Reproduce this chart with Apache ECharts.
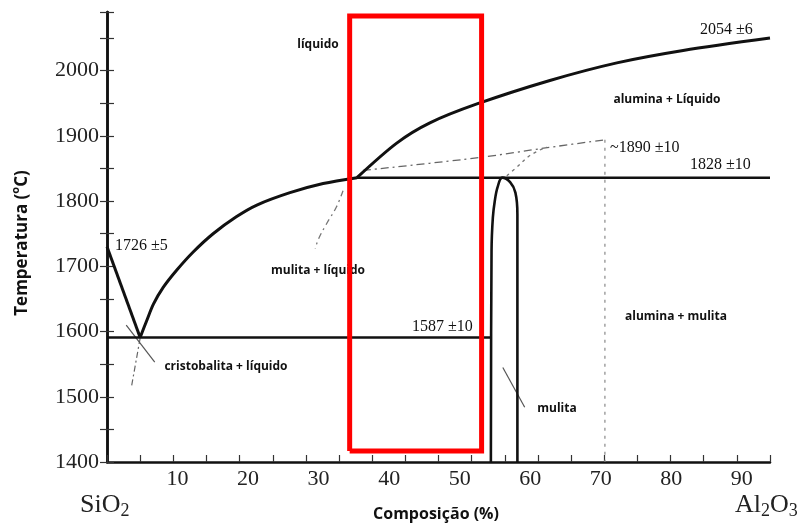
<!doctype html>
<html lang="pt-BR">
<head>
<meta charset="UTF-8"/>
<title>Diagrama de fases SiO2 - Al2O3</title>
<script src="https://cdn.jsdelivr.net/npm/echarts@6/dist/echarts.min.js"></script>
<style>
html,body{margin:0;padding:0;background:#fff;}
#diagrama{width:809px;height:523px;}
</style>
</head>
<body>

<div id="diagrama"></div>

<script>
// rótulos dos eixos
var rotulosX = [10, 20, 30, 40, 50, 60, 70, 80, 90];
var rotulosY = [1400, 1500, 1600, 1700, 1800, 1900, 2000];

// curvas do diagrama (composição %, temperatura °C)
var liquidusSilica  = [[0, 1730], [5.0, 1591]];
var liquidusMulita  = [[5.0, 1591], [6.0, 1617], [7.0, 1642], [8.5, 1668], [10.5, 1694], [13.0, 1722],
                       [16.0, 1750], [19.5, 1776], [22.6, 1794], [27.6, 1813], [32.6, 1827], [37.7, 1836]];
var liquidusAlumina = [[37.7, 1836], [43.7, 1889], [48.7, 1920], [55.8, 1949], [66.8, 1985],
                       [76.9, 2012], [86.9, 2031], [100, 2050]];
var eutetico     = [[0, 1591], [57.9, 1591]];
var peritetico   = [[37.7, 1836], [100, 1836]];
var campoMulita  = [[57.9, 1400], [58.0, 1724], [58.2, 1775], [58.5, 1801], [58.9, 1821], [59.6, 1836],
                    [60.8, 1829], [61.6, 1813], [61.9, 1780], [61.9, 1400]];

// linhas metaestáveis (traço-ponto / pontilhado)
var metaEutetico = [[5.0, 1590], [3.7, 1516]];
var metaLiquidus = [[35.6, 1816], [34.6, 1791], [33.1, 1765], [31.9, 1742], [31.4, 1727]];
var metaTopo     = [[38.6, 1847], [56.3, 1867], [66.4, 1882], [75.1, 1894]];
var metaMulita   = [[60.3, 1839], [61.8, 1852], [63.8, 1870], [66.3, 1883]];
var metaVertical = [[75.1, 1894], [75.1, 1400]];

// linhas de chamada
var setaCristobalita = [[2.9, 1610], [7.2, 1553]];
var setaMulita       = [[59.7, 1545], [63.0, 1484]];

// destaque vermelho
var destaque = [[36.6, 1417], [56.5, 1417], [56.5, 2084], [36.6, 2084], [36.6, 1417]];

var myChart = echarts.init(document.getElementById('diagrama'));

var serif = '"Liberation Serif", "Times New Roman", serif';
var sans = '"Open Sans", "Noto Sans", sans-serif';

function linha(dados, cor, largura, tipo, suave) {
    return {
        type: 'line',
        data: dados,
        xAxisIndex: 0,
        yAxisIndex: 0,
        showSymbol: false,
        symbol: 'none',
        smooth: suave || false,
        silent: true,
        lineStyle: { color: cor, width: largura, type: tipo || 'solid', join: 'miter' }
    };
}

function texto(x, y, t, fonte, tam, peso, alinha) {
    return {
        type: 'text',
        x: x, y: y,
        style: {
            text: t, fill: '#111', font: peso + ' ' + tam + 'px ' + fonte,
            align: alinha || 'center', verticalAlign: 'middle'
        }
    };
}

option = {
    backgroundColor: '#fff',
    animation: false,
    grid: { left: 107, right: 39, top: 12, bottom: 61, containLabel: false },
    xAxis: [
        {
            type: 'value', min: 0, max: 100, interval: 5, position: 'bottom',
            axisLine: { lineStyle: { color: '#111', width: 2.5 } },
            axisTick: { inside: true, length: 7, lineStyle: { color: '#333', width: 1.2 } },
            axisLabel: { show: false },
            splitLine: { show: false }
        },
        {
            type: 'value', min: 0, max: 94, interval: 10, position: 'bottom',
            axisLine: { show: false },
            axisTick: { show: false },
            splitLine: { show: false },
            axisLabel: {
                margin: 6, color: '#222', fontFamily: serif, fontSize: 22,
                formatter: function (v) { return rotulosX.indexOf(v) >= 0 ? v : ''; }
            }
        }
    ],
    yAxis: [
        {
            type: 'value', min: 1400, max: 2090, interval: 50, position: 'left',
            axisLine: { show: true, lineStyle: { color: '#111', width: 2.5 } },
            axisTick: { show: true, inside: true, length: 7, lineStyle: { color: '#333', width: 1.2 } },
            splitLine: { show: false },
            axisLabel: {
                margin: 8, color: '#222', fontFamily: serif, fontSize: 22,
                formatter: function (v) { return rotulosY.indexOf(v) >= 0 ? v : ''; }
            }
        },
        {
            type: 'value', min: 1400, max: 2090, interval: 50, position: 'right',
            axisLine: { show: true, lineStyle: { color: '#111', width: 2.5 } },
            axisTick: { show: true, inside: true, length: 7, lineStyle: { color: '#333', width: 1.2 } },
            splitLine: { show: false },
            axisLabel: { show: false }
        }
    ],
    series: [
        linha(metaEutetico, '#666', 1.2, [6, 3, 2, 3]),
        linha(metaLiquidus, '#777', 1.3, [6, 4, 2, 4], 0.4),
        linha(metaTopo, '#666', 1.3, [8, 4, 2, 4], 0.3),
        linha(metaMulita, '#777', 1.3, [3, 4], 0.4),
        linha(metaVertical, '#888', 1.2, [3, 5]),
        linha(setaCristobalita, '#555', 1.2),
        linha(setaMulita, '#555', 1.2),
        linha(liquidusSilica, '#111', 3),
        linha(liquidusMulita, '#111', 3, 'solid', 0.3),
        linha(liquidusAlumina, '#111', 3, 'solid', 0.3),
        linha(eutetico, '#111', 2.5),
        linha(peritetico, '#111', 2.5),
        linha(campoMulita, '#111', 2.6, 'solid', 0.35),
        linha(destaque, '#ff0000', 5)
    ],
    graphic: [
        texto(318, 45, 'líquido', sans, 12, 'bold'),
        texto(667, 100, 'alumina + Líquido', sans, 12, 'bold'),
        texto(318, 271, 'mulita + líquido', sans, 12, 'bold'),
        texto(226, 367, 'cristobalita + líquido', sans, 12, 'bold'),
        texto(676, 317, 'alumina + mulita', sans, 12, 'bold'),
        texto(557, 409, 'mulita', sans, 12, 'bold'),
        texto(115, 246, '1726 ±5', serif, 16, 'normal', 'left'),
        texto(412, 327, '1587 ±10', serif, 16, 'normal', 'left'),
        texto(690, 165, '1828 ±10', serif, 16, 'normal', 'left'),
        texto(610, 148, '~1890 ±10', serif, 16, 'normal', 'left'),
        texto(700, 30, '2054 ±6', serif, 16, 'normal', 'left'),
        texto(436, 514, 'Composição (%)', sans, 16, 'bold'),
        {
            type: 'text', x: 80, y: 505,
            style: {
                text: '{a|SiO}{b|2}', verticalAlign: 'middle', fill: '#222',
                rich: {
                    a: { fontFamily: serif, fontSize: 26, lineHeight: 30, fill: '#222', verticalAlign: 'middle' },
                    b: { fontFamily: serif, fontSize: 18, lineHeight: 30, fill: '#222', verticalAlign: 'bottom' }
                }
            }
        },
        {
            type: 'text', x: 735, y: 505,
            style: {
                text: '{a|Al}{b|2}{a|O}{b|3}', verticalAlign: 'middle', fill: '#222',
                rich: {
                    a: { fontFamily: serif, fontSize: 26, lineHeight: 30, fill: '#222', verticalAlign: 'middle' },
                    b: { fontFamily: serif, fontSize: 18, lineHeight: 30, fill: '#222', verticalAlign: 'bottom' }
                }
            }
        },
        {
            type: 'text', x: 22, y: 243, rotation: Math.PI / 2,
            style: {
                text: '{a|Temperatura (}{b|o}{a|C)}', align: 'center', verticalAlign: 'middle', fill: '#111',
                rich: {
                    a: { fontFamily: sans, fontWeight: 'bold', fontSize: 17, lineHeight: 24, fill: '#111', verticalAlign: 'middle' },
                    b: { fontFamily: sans, fontWeight: 'bold', fontSize: 11, lineHeight: 24, fill: '#111', verticalAlign: 'top' }
                }
            }
        }
    ]
};

myChart.setOption(option);
</script>

</body>
</html>
